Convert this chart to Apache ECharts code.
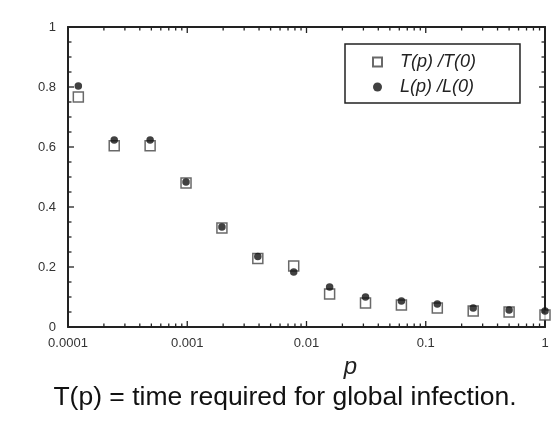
<!DOCTYPE html>
<html>
<head>
<meta charset="utf-8">
<script src="https://cdn.jsdelivr.net/npm/echarts@6/dist/echarts.min.js"></script>
<style>
  html, body { margin: 0; padding: 0; background: #fff; }
  #chart { width: 557px; height: 423px; }
</style>
</head>
<body>
<div id="chart"></div>
<script>
// p values (halving steps from 1)
var pList = [1, 0.5, 0.25, 0.125, 0.0625, 0.03125, 0.015625, 0.0078125,
  0.00390625, 0.001953125, 0.0009765625, 0.00048828125, 0.000244140625, 0.0001220703125]
// T(p)/T(0), open squares
var tRatio = [0.04, 0.05, 0.053, 0.063, 0.073, 0.08, 0.11, 0.203, 0.228, 0.33, 0.48, 0.604, 0.604, 0.767]
// L(p)/L(0), filled dots
var lRatio = [0.053, 0.057, 0.063, 0.077, 0.087, 0.10, 0.133, 0.183, 0.235, 0.333, 0.483, 0.623, 0.623, 0.803]

// tick labels and tick positions
var xTicks = ['0.0001', '0.001', '0.01', '0.1', '1']
var xMajor = [0.0001, 0.001, 0.01, 0.1, 1]
var xMinor = [
  0.0002, 0.0003, 0.0004, 0.0005, 0.0006, 0.0007, 0.0008, 0.0009,
  0.002, 0.003, 0.004, 0.005, 0.006, 0.007, 0.008, 0.009,
  0.02, 0.03, 0.04, 0.05, 0.06, 0.07, 0.08, 0.09,
  0.2, 0.3, 0.4, 0.5, 0.6, 0.7, 0.8, 0.9
]
var yTicks = ['0', '0.2', '0.4', '0.6', '0.8', '1']
var yMajor = [0, 0.2, 0.4, 0.6, 0.8, 1]
var yMinor = [0.05, 0.1, 0.15, 0.25, 0.3, 0.35, 0.45, 0.5, 0.55, 0.65, 0.7, 0.75, 0.85, 0.9, 0.95]

var ink = '#222'

function pairs(xs, ys) {
  return xs.map(function (x, i) { return [x, ys[i]] })
}

// inward ticks on both box sides, drawn with the axes' own coords
function tickSeries(values, isX, len) {
  return {
    type: 'custom',
    silent: true,
    clip: false,
    z: 5,
    data: values.map(function (v) { return isX ? [v, 0] : [1, v] }),
    renderItem: function (params, api) {
      var v = isX ? api.value(0) : api.value(1)
      var a, b, da, db
      if (isX) {
        a = api.coord([v, 0]); b = api.coord([v, 1])
        da = [0, -len]; db = [0, len]
      } else {
        a = api.coord([0.0001, v]); b = api.coord([1, v])
        da = [len, 0]; db = [-len, 0]
      }
      var st = { stroke: ink, lineWidth: 1.3 }
      return {
        type: 'group',
        children: [
          { type: 'line', shape: { x1: a[0], y1: a[1], x2: a[0] + da[0], y2: a[1] + da[1] }, style: st },
          { type: 'line', shape: { x1: b[0], y1: b[1], x2: b[0] + db[0], y2: b[1] + db[1] }, style: st }
        ]
      }
    }
  }
}

var myChart = echarts.init(document.getElementById('chart'))

function xAx(pos, showLabel) {
  return {
    type: 'log',
    logBase: 10,
    min: 0.0001,
    max: 1,
    position: pos,
    name: pos === 'bottom' ? 'p' : '',
    nameLocation: 'middle',
    nameGap: 13,
    nameTextStyle: {
      fontStyle: 'italic', fontSize: 24, color: ink, fontFamily: 'Liberation Sans',
      padding: [0, 0, 0, 88]
    },
    axisLine: { show: true, onZero: false, lineStyle: { color: ink, width: 2 } },
    axisTick: { show: false },
    minorTick: { show: false },
    splitLine: { show: false },
    axisLabel: {
      show: showLabel,
      margin: 10,
      color: '#333',
      fontSize: 13,
      fontFamily: 'Liberation Sans',
      formatter: function (v) { return xTicks[Math.round(Math.log(v) / Math.LN10) + 4] }
    }
  }
}

function yAx(pos, showLabel) {
  return {
    type: 'value',
    min: 0,
    max: 1,
    interval: 0.2,
    position: pos,
    axisLine: { show: true, onZero: false, lineStyle: { color: ink, width: 2 } },
    axisTick: { show: false },
    splitLine: { show: false },
    axisLabel: {
      show: showLabel,
      margin: 12,
      color: '#333',
      fontSize: 13,
      fontFamily: 'Liberation Sans',
      formatter: function (v) { return yTicks[Math.round(v * 5)] }
    }
  }
}

myChart.setOption({
  animation: false,
  backgroundColor: '#fff',
  grid: { left: 68, right: 12, top: 27, bottom: 96 },
  graphic: [{
    type: 'text',
    x: 285,
    y: 384,
    style: {
      text: 'T(p) = time required for global infection.',
      textAlign: 'center',
      fontSize: 26.5,
      fontFamily: 'Liberation Sans',
      fill: '#111'
    }
  }],
  legend: {
    orient: 'vertical',
    left: 345,
    top: 44,
    padding: [9, 44, 7, 27],
    itemGap: 7,
    itemWidth: 9,
    itemHeight: 9,
    borderColor: ink,
    borderWidth: 1.5,
    backgroundColor: '#fff',
    textStyle: {
      fontStyle: 'italic', fontSize: 18, color: '#222', fontFamily: 'Liberation Sans',
      padding: [0, 0, 0, 13]
    },
    data: ['T(p) /T(0)', 'L(p) /L(0)']
  },
  xAxis: [xAx('bottom', true), xAx('top', false)],
  yAxis: [yAx('left', true), yAx('right', false)],
  series: [
    {
      name: 'T(p) /T(0)',
      type: 'scatter',
      symbol: 'rect',
      symbolSize: 10,
      itemStyle: { color: '#fff', borderColor: '#444', borderWidth: 1.5 },
      data: pairs(pList, tRatio)
    },
    {
      name: 'L(p) /L(0)',
      type: 'scatter',
      symbol: 'circle',
      symbolSize: 7.5,
      itemStyle: { color: '#111' },
      z: 3,
      data: pairs(pList, lRatio)
    },
    tickSeries(xMajor, true, 6),
    tickSeries(xMinor, true, 3.5),
    tickSeries(yMajor, false, 6),
    tickSeries(yMinor, false, 3.5)
  ]
})
</script>
</body>
</html>
